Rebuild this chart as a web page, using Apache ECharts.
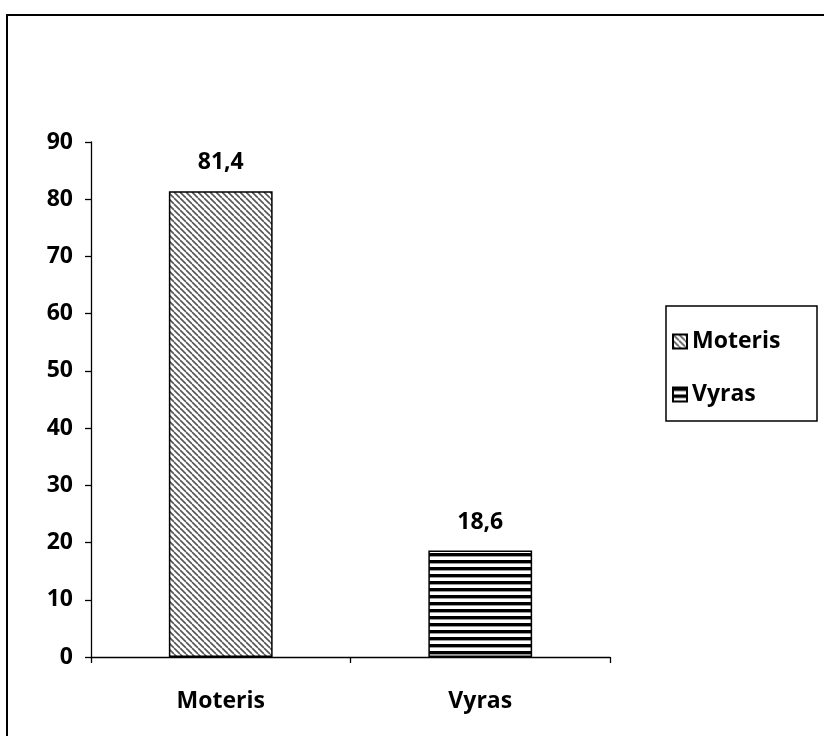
<!DOCTYPE html>
<html>
<head>
<meta charset="utf-8">
<script src="https://cdn.jsdelivr.net/npm/echarts@6/dist/echarts.min.js"></script>
<style>html,body{margin:0;padding:0;background:#fff;}#c{width:824px;height:736px;}</style>
</head>
<body>
<div id="c"></div>
<script>
const categories = ['Moteris', 'Vyras'];
const seriesNames = ['Moteris', 'Vyras'];
const values = [81.4, 18.6];
const yTicks = [0, 10, 20, 30, 40, 50, 60, 70, 80, 90];

function diagPattern() {
  const c = document.createElement('canvas');
  c.width = 6; c.height = 6;
  const g = c.getContext('2d');
  g.fillStyle = '#fff'; g.fillRect(0, 0, 6, 6);
  g.strokeStyle = '#555'; g.lineWidth = 1.6;
  for (let k = -6; k <= 6; k += 6) {
    g.beginPath(); g.moveTo(k, 0); g.lineTo(k + 6, 6); g.stroke();
  }
  return c;
}
function horizPattern() {
  const c = document.createElement('canvas');
  c.width = 8; c.height = 7;
  const g = c.getContext('2d');
  g.fillStyle = '#fff'; g.fillRect(0, 0, 8, 7);
  g.fillStyle = '#000'; g.fillRect(0, 0, 8, 3);
  g.fillStyle = '#999'; g.fillRect(0, 3, 8, 1);
  return c;
}
const patterns = [diagPattern(), horizPattern()];
const font = '"Open Sans", sans-serif';
const fs = 23;

const chart = echarts.init(document.getElementById('c'), null, {renderer: 'canvas'});
const series = seriesNames.map((name, i) => ({
  name: name,
  type: 'bar',
  barWidth: '40%',
  barGap: '-100%',
  data: categories.map((c, j) => j === i ? values[i] : null),
  itemStyle: {
    color: {image: patterns[i], repeat: 'repeat'},
    borderColor: '#000',
    borderWidth: 1.5
  },
  label: {
    show: true,
    position: 'top',
    distance: 17,
    color: '#000',
    fontFamily: font,
    fontWeight: 'bold',
    fontSize: fs,
    formatter: p => String(p.value).replace('.', ',')
  }
}));

chart.setOption({
  animation: false,
  backgroundColor: '#fff',
  grid: {left: 91, right: 214, top: 142, bottom: 79, containLabel: false},
  xAxis: {
    type: 'category',
    data: categories,
    axisLine: {lineStyle: {color: '#000', width: 1.3}},
    axisTick: {show: true, length: 6, lineStyle: {color: '#000', width: 1.3}},
    axisLabel: {color: '#000', fontFamily: font, fontWeight: 'bold', fontSize: fs, margin: 33}
  },
  yAxis: {
    type: 'value',
    min: yTicks[0],
    max: yTicks[yTicks.length - 1],
    interval: 10,
    axisLine: {show: true, lineStyle: {color: '#000', width: 1.3}},
    axisTick: {show: true, length: 6, lineStyle: {color: '#000', width: 1.3}},
    splitLine: {show: false},
    axisLabel: {color: '#000', fontFamily: font, fontWeight: 'bold', fontSize: fs, margin: 18}
  },
  legend: {
    orient: 'vertical',
    left: 672,
    top: 330,
    padding: 0,
    itemGap: 30,
    itemWidth: 14,
    itemHeight: 14,
    icon: 'rect',
    textStyle: {color: '#000', fontFamily: font, fontWeight: 'bold', fontSize: fs, padding: [0, 0, 0, 0]},
    data: seriesNames
  },
  graphic: [
    {type: 'rect', shape: {x: 7, y: 15, width: 840, height: 760}, style: {fill: 'none', stroke: '#000', lineWidth: 2}, silent: true},
    {type: 'rect', shape: {x: 666, y: 306, width: 151, height: 115}, style: {fill: 'none', stroke: '#000', lineWidth: 1.5}, silent: true}
  ],
  series: series
});
</script>
</body>
</html>
